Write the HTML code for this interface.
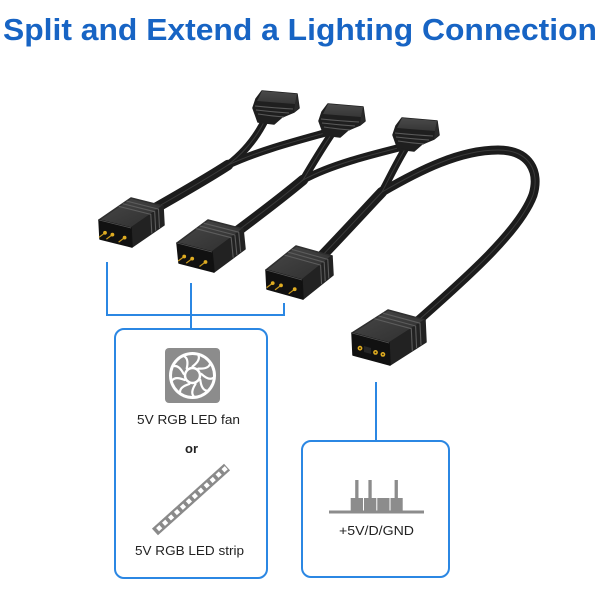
<!DOCTYPE html>
<html>
<head>
<meta charset="utf-8">
<style>
  html,body{margin:0;padding:0;background:#fff;}
  body{width:600px;height:600px;overflow:hidden;}
  svg{display:block;}
</style>
</head>
<body>
<svg width="600" height="600" viewBox="0 0 600 600" xmlns="http://www.w3.org/2000/svg">
  <defs>
    <linearGradient id="topg" x1="0" y1="0" x2="1" y2="1">
      <stop offset="0" stop-color="#484848"/>
      <stop offset="1" stop-color="#2e2e2e"/>
    </linearGradient>
    <linearGradient id="etop" x1="0" y1="0" x2="0" y2="1">
      <stop offset="0" stop-color="#4a4a4a"/>
      <stop offset="1" stop-color="#363636"/>
    </linearGradient>
  </defs>

  <!-- Title -->
  <text x="3" y="40" font-family="Liberation Sans, Arial, sans-serif" font-weight="bold" font-size="31" fill="#1764c4" textLength="594" lengthAdjust="spacingAndGlyphs">Split and Extend a Lighting Connection</text>

  <!-- Cables -->
  <g fill="none" stroke-linecap="round" stroke="#1c1c1c">
    <path d="M266,118 C258,135 245,152 228,165" stroke-width="7.5"/>
    <path d="M332,131 C300,140 260,150 228,165" stroke-width="7.5"/>
    <path d="M228,165 C205,180 175,197 145,214" stroke-width="10.5"/>
    <path d="M333,132 C322,148 312,165 303,180" stroke-width="7.5"/>
    <path d="M406,146 C370,155 330,165 303,180" stroke-width="7.5"/>
    <path d="M303,180 C285,195 255,218 228,238" stroke-width="10.5"/>
    <path d="M407,146 C398,160 390,177 382,192" stroke-width="7.5"/>
    <path d="M382,192 C420,170 460,150 498,150 C530,150 540,172 533,195 C520,230 470,275 412,326" stroke-width="9"/>
    <path d="M382,192 C365,210 345,232 318,260" stroke-width="10.5"/>
  </g>
  <g fill="none" stroke-linecap="round" stroke="#3e3e3e" stroke-width="1" opacity="0.9">
    <path d="M266,118 C258,135 245,152 228,165"/>
    <path d="M332,131 C300,140 260,150 228,165"/>
    <path d="M228,165 C205,180 175,197 145,214"/>
    <path d="M333,132 C322,148 312,165 303,180"/>
    <path d="M406,146 C370,155 330,165 303,180"/>
    <path d="M303,180 C285,195 255,218 228,238"/>
    <path d="M407,146 C398,160 390,177 382,192"/>
    <path d="M382,192 C420,170 460,150 498,150 C530,150 540,172 533,195 C520,230 470,275 412,326"/>
    <path d="M382,192 C365,210 345,232 318,260"/>
  </g>

  <!-- Top female connectors E1,E2,E3 -->
  <g>
    <polygon points="262,91 297,94 299,108 294,112 282,117 274,124 258,122 253,108 256,99" fill="#1f1f1f" stroke="#1f1f1f" stroke-width="1.5" stroke-linejoin="round"/>
    <polygon points="262,91 297,94 295,104 257,101" fill="url(#etop)"/>
    <polygon points="297,94 299,108 294,112 295,104" fill="#2a2a2a"/>
    <g fill="none" stroke="#5a5a5a" stroke-width="1.1">
      <path d="M255,106 Q275,108 293,109"/>
      <path d="M256,110 Q273,112 289,113"/>
      <path d="M258,114 Q271,116 284,117"/>
    </g>
  </g>
  <g transform="translate(66,13)">
    <polygon points="262,91 297,94 299,108 294,112 282,117 274,124 258,122 253,108 256,99" fill="#1f1f1f" stroke="#1f1f1f" stroke-width="1.5" stroke-linejoin="round"/>
    <polygon points="262,91 297,94 295,104 257,101" fill="url(#etop)"/>
    <polygon points="297,94 299,108 294,112 295,104" fill="#2a2a2a"/>
    <g fill="none" stroke="#5a5a5a" stroke-width="1.1">
      <path d="M255,106 Q275,108 293,109"/>
      <path d="M256,110 Q273,112 289,113"/>
      <path d="M258,114 Q271,116 284,117"/>
    </g>
  </g>
  <g transform="translate(140,27)">
    <polygon points="262,91 297,94 299,108 294,112 282,117 274,124 258,122 253,108 256,99" fill="#1f1f1f" stroke="#1f1f1f" stroke-width="1.5" stroke-linejoin="round"/>
    <polygon points="262,91 297,94 295,104 257,101" fill="url(#etop)"/>
    <polygon points="297,94 299,108 294,112 295,104" fill="#2a2a2a"/>
    <g fill="none" stroke="#5a5a5a" stroke-width="1.1">
      <path d="M255,106 Q275,108 293,109"/>
      <path d="M256,110 Q273,112 289,113"/>
      <path d="M258,114 Q271,116 284,117"/>
    </g>
  </g>

  <!-- Male connector A -->
  <g stroke-linejoin="round">
    <polygon points="99,220 131,198 163,206 131,228" fill="url(#topg)" stroke="#2f2f2f" stroke-width="1.5"/>
    <polygon points="131,228 163,206 164,225 132,247" fill="#222" stroke="#222" stroke-width="1.5"/>
    <polygon points="99,220 131,228 132,247 100,239" fill="#111" stroke="#111" stroke-width="1.5"/>
    <line x1="99" y1="220" x2="131" y2="228" stroke="#555" stroke-width="0.8"/>
    <g fill="none" stroke="#5c5c5c" stroke-width="1.1">
      <polyline points="118.8,206.4 150.8,214.4 151.8,233.4"/>
      <polyline points="122.7,203.7 154.7,211.7 155.7,230.7"/>
      <polyline points="126.5,201.1 158.5,209.1 159.5,228.1"/>
    </g>
    <g stroke="#c99a1e" stroke-width="1.2">
      <line x1="105" y1="232.8" x2="99" y2="237.3"/>
      <line x1="112.4" y1="234.6" x2="106.4" y2="239.1"/>
      <line x1="124.6" y1="237.6" x2="118.6" y2="242.1"/>
    </g>
    <g fill="#e0ad22">
      <circle cx="105" cy="232.8" r="1.9"/>
      <circle cx="112.4" cy="234.6" r="1.9"/>
      <circle cx="124.6" cy="237.6" r="1.9"/>
    </g>
  </g>

  <!-- Male connector B -->
  <g stroke-linejoin="round">
    <polygon points="177,243 208,220 243,229 212,252" fill="url(#topg)" stroke="#2f2f2f" stroke-width="1.5"/>
    <polygon points="212,252 243,229 245,249 214,272" fill="#222" stroke="#222" stroke-width="1.5"/>
    <polygon points="177,243 212,252 214,272 179,263" fill="#111" stroke="#111" stroke-width="1.5"/>
    <line x1="177" y1="243" x2="212" y2="252" stroke="#555" stroke-width="0.8"/>
    <g fill="none" stroke="#5c5c5c" stroke-width="1.1">
      <polyline points="196.2,228.7 231.2,237.7 233.2,257.7"/>
      <polyline points="199.9,226 234.9,235 236.9,255"/>
      <polyline points="203.7,223.2 238.7,232.2 240.7,252.2"/>
    </g>
    <g stroke="#c99a1e" stroke-width="1.2">
      <line x1="184.2" y1="256.5" x2="178.2" y2="261"/>
      <line x1="192.2" y1="258.6" x2="186.2" y2="263.1"/>
      <line x1="205.5" y1="262" x2="199.5" y2="266.5"/>
    </g>
    <g fill="#e0ad22">
      <circle cx="184.2" cy="256.5" r="1.9"/>
      <circle cx="192.2" cy="258.6" r="1.9"/>
      <circle cx="205.5" cy="262" r="1.9"/>
    </g>
  </g>

  <!-- Male connector C -->
  <g stroke-linejoin="round">
    <polygon points="266,270 296,246 332,256 302,280" fill="url(#topg)" stroke="#2f2f2f" stroke-width="1.5"/>
    <polygon points="302,280 332,256 333,275 303,299" fill="#222" stroke="#222" stroke-width="1.5"/>
    <polygon points="266,270 302,280 303,299 267,289" fill="#111" stroke="#111" stroke-width="1.5"/>
    <line x1="266" y1="270" x2="302" y2="280" stroke="#555" stroke-width="0.8"/>
    <g fill="none" stroke="#5c5c5c" stroke-width="1.1">
      <polyline points="284.6,255.1 320.6,265.1 321.6,284.1"/>
      <polyline points="288.2,252.2 324.2,262.2 325.2,281.2"/>
      <polyline points="291.8,249.4 327.8,259.4 328.8,278.4"/>
    </g>
    <g stroke="#c99a1e" stroke-width="1.2">
      <line x1="272.7" y1="283.1" x2="266.7" y2="287.6"/>
      <line x1="281" y1="285.4" x2="275" y2="289.9"/>
      <line x1="294.7" y1="289.2" x2="288.7" y2="293.7"/>
    </g>
    <g fill="#e0ad22">
      <circle cx="272.7" cy="283.1" r="1.9"/>
      <circle cx="281" cy="285.4" r="1.9"/>
      <circle cx="294.7" cy="289.2" r="1.9"/>
    </g>
  </g>

  <!-- Female connector D -->
  <g stroke-linejoin="round">
    <polygon points="352,333 388,310 425,320 389,343" fill="url(#topg)" stroke="#2f2f2f" stroke-width="1.5"/>
    <polygon points="389,343 425,320 426,342 390,365" fill="#222" stroke="#222" stroke-width="1.5"/>
    <polygon points="352,333 389,343 390,365 353,355" fill="#111" stroke="#111" stroke-width="1.5"/>
    <line x1="352" y1="333" x2="389" y2="343" stroke="#555" stroke-width="0.8"/>
    <g fill="none" stroke="#5c5c5c" stroke-width="1.1">
      <polyline points="374.3,318.7 411.3,328.7 412.3,350.7"/>
      <polyline points="378.6,316 415.6,326 416.6,348"/>
      <polyline points="383,313.2 420,323.2 421,345.2"/>
    </g>
    <polygon points="364,346 371,348 371,354 364,352" fill="#262626"/>
    <g fill="#e0ad22">
      <circle cx="360" cy="348.2" r="2.4"/>
      <circle cx="375.5" cy="352.4" r="2.4"/>
      <circle cx="382.9" cy="354.4" r="2.4"/>
    </g>
    <g fill="#3a2a05">
      <circle cx="360" cy="348.2" r="0.9"/>
      <circle cx="375.5" cy="352.4" r="0.9"/>
      <circle cx="382.9" cy="354.4" r="0.9"/>
    </g>
  </g>

  <!-- Blue connector lines and boxes -->
  <g fill="none" stroke="#2b87e3" stroke-width="2">
    <path d="M107,262 V315 H284 V303"/>
    <path d="M191,283 V329"/>
    <rect x="115" y="329" width="152" height="249" rx="9"/>
    <path d="M376,382 V441"/>
    <rect x="302" y="441" width="147" height="136" rx="9"/>
  </g>

  <!-- Fan icon -->
  <rect x="165" y="348" width="55" height="55" rx="4" fill="#8c8c8c"/>
  <circle cx="192.5" cy="375.5" r="23.5" fill="#fff"/>
  <circle cx="192.5" cy="375.5" r="20.5" fill="#8c8c8c"/>
  <g fill="none" stroke="#fff" stroke-width="2.2" stroke-linecap="round">
    <path d="M192.5,366.5 Q200.5,360.5 198.5,355.5" transform="rotate(0 192.5 375.5)"/>
    <path d="M192.5,366.5 Q200.5,360.5 198.5,355.5" transform="rotate(40 192.5 375.5)"/>
    <path d="M192.5,366.5 Q200.5,360.5 198.5,355.5" transform="rotate(80 192.5 375.5)"/>
    <path d="M192.5,366.5 Q200.5,360.5 198.5,355.5" transform="rotate(120 192.5 375.5)"/>
    <path d="M192.5,366.5 Q200.5,360.5 198.5,355.5" transform="rotate(160 192.5 375.5)"/>
    <path d="M192.5,366.5 Q200.5,360.5 198.5,355.5" transform="rotate(200 192.5 375.5)"/>
    <path d="M192.5,366.5 Q200.5,360.5 198.5,355.5" transform="rotate(240 192.5 375.5)"/>
    <path d="M192.5,366.5 Q200.5,360.5 198.5,355.5" transform="rotate(280 192.5 375.5)"/>
    <path d="M192.5,366.5 Q200.5,360.5 198.5,355.5" transform="rotate(320 192.5 375.5)"/>
  </g>
  <circle cx="192.5" cy="375.5" r="7.5" fill="#8c8c8c" stroke="#fff" stroke-width="2.5"/>

  <!-- LED strip -->
  <g transform="translate(191,499.5) rotate(-42)">
    <rect x="-48.5" y="-4.5" width="97" height="9" fill="#8a8a8a"/>
    <g fill="#fff">
      <rect x="-45" y="-2.2" width="4.4" height="4.4"/>
      <rect x="-37" y="-2.2" width="4.4" height="4.4"/>
      <rect x="-29" y="-2.2" width="4.4" height="4.4"/>
      <rect x="-21" y="-2.2" width="4.4" height="4.4"/>
      <rect x="-13" y="-2.2" width="4.4" height="4.4"/>
      <rect x="-5" y="-2.2" width="4.4" height="4.4"/>
      <rect x="3" y="-2.2" width="4.4" height="4.4"/>
      <rect x="11" y="-2.2" width="4.4" height="4.4"/>
      <rect x="19" y="-2.2" width="4.4" height="4.4"/>
      <rect x="27" y="-2.2" width="4.4" height="4.4"/>
      <rect x="35" y="-2.2" width="4.4" height="4.4"/>
      <rect x="43" y="-2.2" width="4.4" height="4.4"/>
    </g>
  </g>

  <!-- Pin header icon -->
  <g fill="#8c8c8c">
    <rect x="329" y="510.5" width="95" height="3"/>
    <rect x="350.7" y="498" width="52" height="13"/>
    <rect x="355.2" y="480" width="3.3" height="18"/>
    <rect x="368.4" y="480" width="3.3" height="18"/>
    <rect x="394.6" y="480" width="3.3" height="18"/>
  </g>
  <g stroke="#fff" stroke-width="1">
    <line x1="363.5" y1="498" x2="363.5" y2="510.5"/>
    <line x1="376.8" y1="498" x2="376.8" y2="510.5"/>
    <line x1="390" y1="498" x2="390" y2="510.5"/>
  </g>

  <!-- Labels -->
  <g font-family="Liberation Sans, Arial, sans-serif" fill="#222">
    <text x="137" y="424" font-size="12.5" textLength="103" lengthAdjust="spacingAndGlyphs">5V RGB LED fan</text>
    <text x="185" y="453" font-size="12.5" font-weight="bold" textLength="13" lengthAdjust="spacingAndGlyphs">or</text>
    <text x="135" y="555" font-size="12.5" textLength="109" lengthAdjust="spacingAndGlyphs">5V RGB LED strip</text>
    <text x="339" y="535" font-size="12.5" textLength="75" lengthAdjust="spacingAndGlyphs">+5V/D/GND</text>
  </g>
</svg>
</body>
</html>
